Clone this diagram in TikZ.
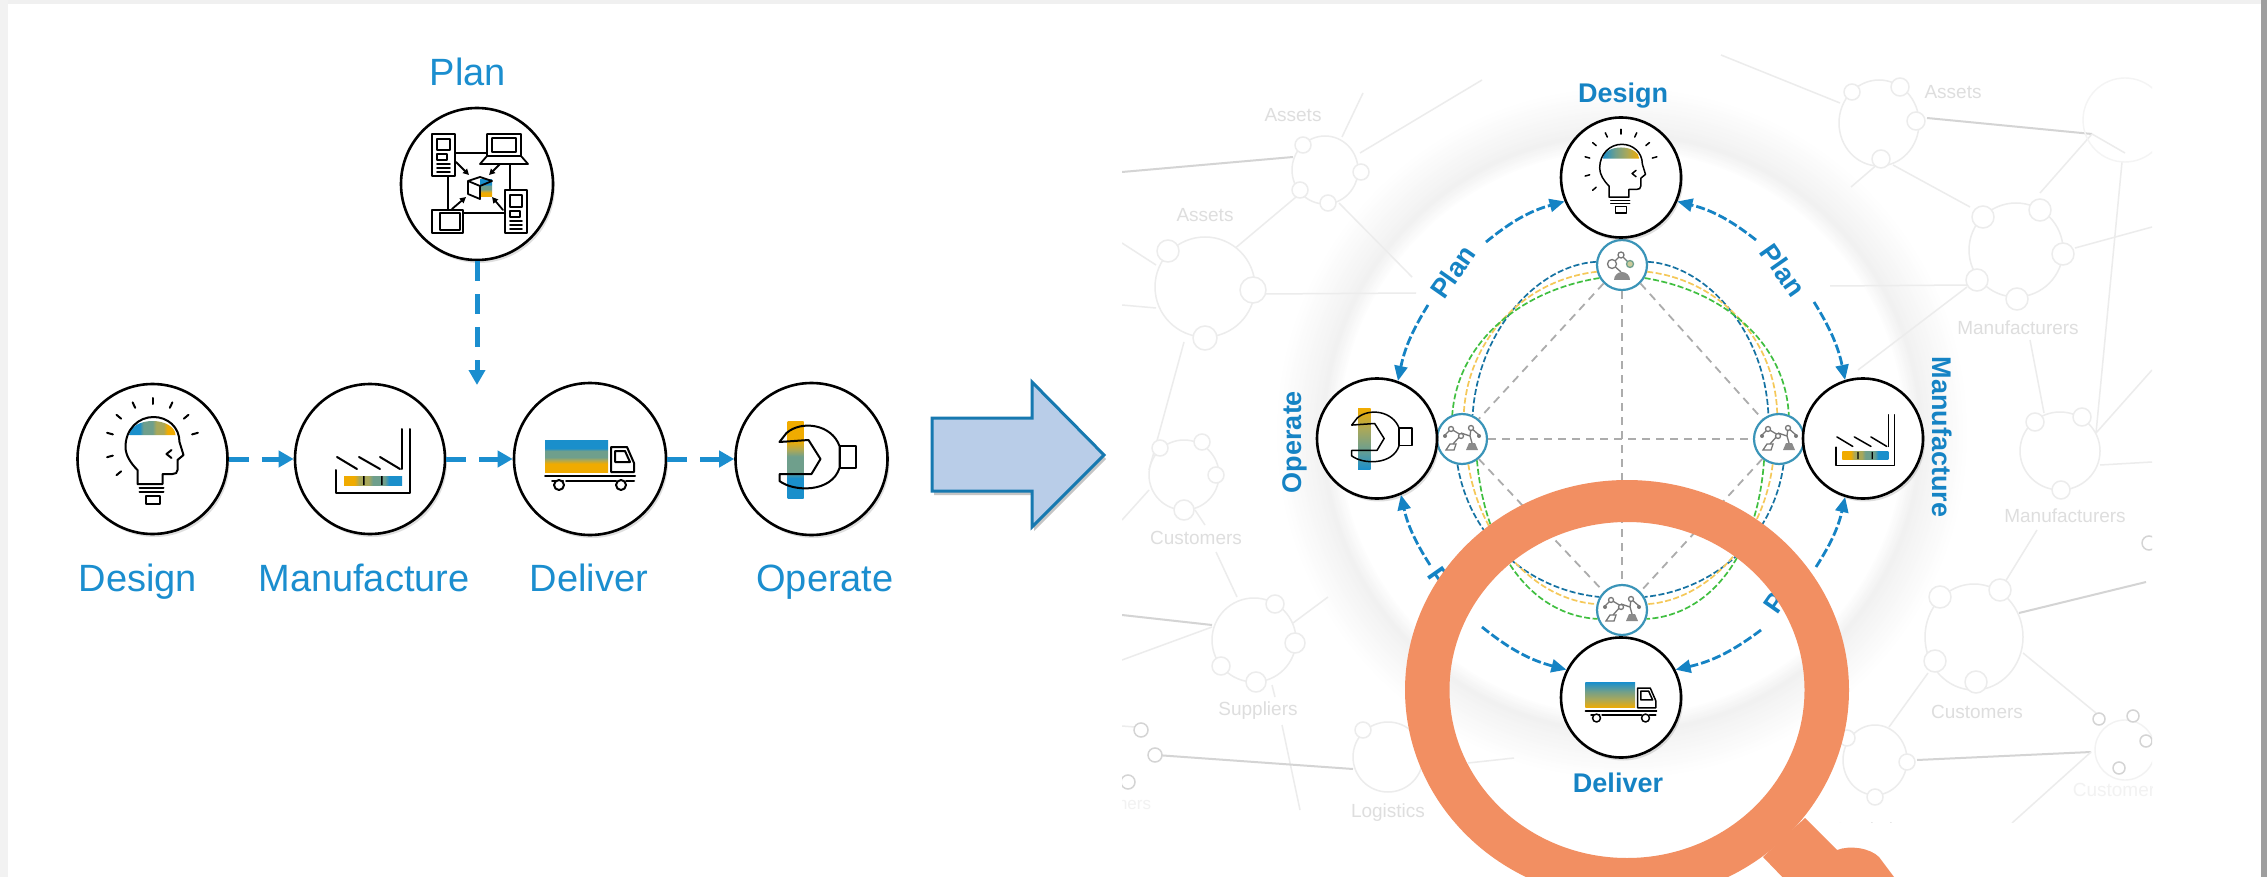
\documentclass[tikz,border=0pt]{standalone}
\usepackage{fontspec}
\setmainfont{Liberation Sans}
\usetikzlibrary{arrows.meta,shadows,calc}
\definecolor{sapblue}{HTML}{1B8ECF}
\definecolor{dkblue}{HTML}{1583C4}
\definecolor{sapfill}{HTML}{B9CDE8}
\definecolor{gA}{HTML}{1A8FCB}
\definecolor{gB}{HTML}{6F9F8C}
\definecolor{gC}{HTML}{A9A85A}
\definecolor{gD}{HTML}{F0AB00}
\definecolor{netc}{HTML}{ECECEC}
\definecolor{netd}{HTML}{D4D4D4}
\definecolor{nett}{HTML}{DEDEDE}
\definecolor{ringc}{HTML}{F28F62}
\definecolor{smallc}{HTML}{3A94B8}
\definecolor{robotg}{HTML}{777777}
\pgfdeclareverticalshading{bandv}{100bp}{color(0bp)=(gD);color(25bp)=(gD);color(38bp)=(gD);color(44bp)=(gC);color(48bp)=(gB);color(58bp)=(gB);color(62bp)=(gA);color(75bp)=(gA);color(100bp)=(gA)}
\pgfdeclareverticalshading{smoothv}{100bp}{color(0bp)=(gD);color(25bp)=(gD);color(42bp)=(gC);color(58bp)=(gB);color(75bp)=(gA);color(100bp)=(gA)}
\pgfdeclarehorizontalshading{bandh}{100bp}{color(0bp)=(gA);color(25bp)=(gA);color(36bp)=(gA);color(40bp)=(gB);color(50bp)=(gB);color(54bp)=(gC);color(62bp)=(gC);color(66bp)=(gD);color(75bp)=(gD);color(100bp)=(gD)}
\pgfdeclarehorizontalshading{smoothh}{100bp}{color(0bp)=(gA);color(25bp)=(gA);color(42bp)=(gB);color(58bp)=(gC);color(75bp)=(gD);color(100bp)=(gD)}
\tikzset{
  iconline/.style={draw=black,line cap=round,line join=round},
  bigc/.style={circle,draw=black,fill=white,line width=2.6pt,inner sep=0pt,minimum size=#1,drop shadow={shadow xshift=2pt,shadow yshift=-3pt,opacity=.25}},
  smallcirc/.style={circle,draw=smallc,fill=white,line width=2.2pt,inner sep=0pt,minimum size=50pt},
  bigtxt/.style={text=sapblue,font=\fontsize{38}{40}\selectfont,inner sep=0pt,anchor=base},
  rtxt/.style={text=dkblue,font=\fontsize{27}{29}\selectfont\bfseries,inner sep=0pt},
  flow/.style={draw=sapblue,line width=5pt,dash pattern=on 20pt off 13pt,-{Triangle[length=15pt,width=16pt]}},
  rflow/.style={draw=dkblue,line width=2.8pt,dash pattern=on 9pt off 3pt,-{Triangle[length=15pt,width=13pt]}},
  netl/.style={draw=netc,line width=1.5pt},
  netk/.style={draw=netd,line width=2pt},
  blob/.style={draw=netc,line width=1.5pt,fill=white},
  nettxt/.style={text=nett,font=\fontsize{19}{21}\selectfont,inner sep=0pt},
  greyd/.style={draw=gray!65,line width=1.8pt,dash pattern=on 8pt off 6pt},
  cblue/.style={draw=gA!80!black,line width=1.7pt,dash pattern=on 6pt off 2.5pt},
  corange/.style={draw=gD!65!white,line width=1.7pt,dash pattern=on 6pt off 2.5pt},
  cgreen/.style={draw=green!50!gray,line width=1.7pt,dash pattern=on 6pt off 2.5pt},
  robot/.style={draw=robotg,line width=1.3pt},
}
% icons: #1 position, #2 scale, #3 line width, #4 shading
\newcommand{\IcDesign}[4]{\begin{scope}[shift={(#1)},scale=#2,line width=#3,iconline]
  \shade[draw=none,shading=#4] (-23,-24) arc[start angle=180,end angle=360,x radius=23,y radius=14] -- cycle;
  \draw (-15,25) -- (-15,11) .. controls (-22,4) and (-27,-4) .. (-27,-12) .. controls (-27,-30) and (-14,-42) .. (1,-42) .. controls (15,-42) and (27,-32) .. (27,-17) -- (31,-4) -- (25,1) -- (25,11) .. controls (25,14) and (23,15) .. (20,15) -- (10,15) -- (10,25) -- cycle;
  \draw (-13,29) -- (11,29) (-13,33) -- (11,33);
  \draw (-7,37) rectangle (7,45);
  \draw (19,-9) -- (14,-5) -- (19,-1);
  \foreach \a in {-90,-65,-115,-40,-140,-15,-165,165,140}{\draw (\a:41) ++(0,-14) -- ++(\a:6);}
\end{scope}}
\newcommand{\IcFactory}[4]{\begin{scope}[shift={(#1)},scale=#2,line width=#3,iconline]
  \shade[draw=none,shading=#4,shading angle=180] (-26,17) rectangle (32,26);
  \fill[black] (-7,17) rectangle (-5.5,26) (11,17) rectangle (12.5,26);
  \draw (-34,11) -- (-34,34) -- (40,34) -- (40,-30) (32,-30) -- (32,10);
  \draw (-33,-2) -- (-13,10) (-11,-2) -- (10,10) (10,-2) -- (30,10);
\end{scope}}
\newcommand{\IcTruck}[4]{\begin{scope}[shift={(#1)},scale=#2,line width=#3,iconline]
  \shade[draw=none,shading=#4] (-45,-19) rectangle (18,13);
  \draw (21,13) -- (21,-12) -- (37,-12) -- (44,4) -- (44,13) -- cycle;
  \draw (25,-8) -- (25,3) -- (40,3) -- (35,-8) -- cycle;
  \draw (-45,17) -- (45,17) (-38,22) -- (-27,22) (-24,22) -- (26,22) (36,22) -- (44,22);
  \draw[fill=white] (-31,26) circle[radius=5] (31,26) circle[radius=5];
\end{scope}}
\newcommand{\IcWrench}[4]{\begin{scope}[shift={(#1)},scale=#2,line width=#3,iconline]
  \shade[draw=none,shading=#4,shading angle=180] (-24,-38) rectangle (-8,39);
  \draw (-32,-17) -- (-3,-19) -- (9,0) -- (0,15) -- (-32,15) -- (-32,22) .. controls (-18,33) and (20,34) .. (28,9) -- (28,-13) .. controls (20,-35) and (-10,-39) .. (-25,-26) -- cycle;
  \draw (28,-13) rectangle (44,9);
\end{scope}}
\newcommand{\IcPlan}[4]{\begin{scope}[shift={(#1)},scale=#2,line width=#3,iconline]
  \draw (-22,-31) -- (10,-31) (-29,-8) -- (-29,26) (-14,29) -- (28,29) (33,-20) -- (33,6);
  \draw (-45,-50) rectangle (-22,-8) (-40,-45) rectangle (-27,-34) (-40,-30) rectangle (-30,-24) (-40,-20) -- (-27,-20) (-40,-16) -- (-27,-16) (-40,-12) -- (-27,-12);
  \draw (10,-50) rectangle (44,-28) (15,-46) rectangle (39,-32) (10,-28) -- (44,-28) -- (51,-20) -- (3,-20) -- cycle;
  \draw (28,6) rectangle (50,49) (33,11) rectangle (45,23) (33,27) rectangle (43,33) (33,37) -- (45,37) (33,41) -- (45,41) (33,45) -- (45,45);
  \draw (-45,26) rectangle (-14,49) (-37,29) rectangle (-17,46);
  \shade[draw=none,shading=#4] (3,-4) rectangle (15,13);
  \draw (-9,-3) -- (3,2) -- (3,15) -- (-9,10) -- cycle (-9,-3) -- (3,-7) -- (15,-3) -- (3,2);
  \foreach \p/\q in {{-21,-22}/{-8,-9},{23,-20}/{12,-9},{-25,25}/{-11,13},{26,26}/{15,13}}
    \draw[-{Triangle[length=6pt,width=6pt]}] (\p) -- (\q);
\end{scope}}
% robots
\newcommand{\RobotOne}[1]{\begin{scope}[shift={(#1)}]
  \fill[robotg!85] (-8,15) arc[start angle=180,end angle=360,radius=8] -- cycle;
  \draw[robot] (-1,7) -- (-10,-1) -- (-1,-10) -- (8,-1);
  \draw[robot,fill=white] (-10,-1) circle[radius=4.5] (-1,-10) circle[radius=3];
  \draw[draw=gB,line width=1.3pt,fill=gC!60] (8,-1) circle[radius=3.5];
\end{scope}}
\newcommand{\RobotTwo}[1]{\begin{scope}[shift={(#1)}]
  \draw[robot] (-16,11) -- (-8,11) -- (-6,5) -- (-12,5) -- cycle;
  \fill[robotg!85] (4,11) -- (16,11) -- (13,4) -- (7,4) -- cycle;
  \draw[robot] (-9,5) -- (-1,-4) -- (-11,-10) -- (-17,-4);
  \draw[robot] (10,4) -- (8,-3) -- (-1,-6) (8,-3) -- (9,-11) -- (17,-4);
  \draw[robot,fill=white] (-11,-10) circle[radius=2.5] (-1,-3) circle[radius=2.5] (9,-11) circle[radius=2.5];
  \fill[robotg] (-17,-3) circle[radius=2] (17,-3) circle[radius=2];
\end{scope}}
\begin{document}
\begin{tikzpicture}[x=1pt,y=-1pt]
\useasboundingbox (0,0) rectangle (2267,877);
\clip (0,0) rectangle (2267,877);
\fill[white] (0,0) rectangle (2267,877);
% frame
\fill[black!6] (0,0) rectangle (2267,4);
\fill[black!5] (0,0) rectangle (8,877);
\fill[black!38] (2261,0) rectangle (2267,877);
% ---------------- halo
\foreach \r in {282,284,...,346}{
  \pgfmathsetmacro{\pc}{\r<298 ? (\r-282)/16*5.5 : (346-\r)/48*5.5}
  \draw[black!\pc,line width=2.4pt] (1622,433) circle[radius=\r];
}
% ---------------- background network
\begin{scope}
\clip (1122,30) rectangle (2152,822);
\draw[netk] (1122,172) -- (1293,157);
\draw[netl] (1342,137) -- (1363,93) (1360,153) -- (1482,80) (1339,203) -- (1412,277) (1296,197) -- (1233,250);
\draw[netl] (1122,243) -- (1156,265) (1122,305) -- (1156,308) (1265,294) -- (1416,293) (1184,342) -- (1149,470);
\draw[netl] (1149,490) -- (1122,520) (1195,510) -- (1205,525) (1216,552) -- (1237,597);
\draw[netk] (1122,615) -- (1212,625);
\draw[netl] (1212,627) -- (1122,660) (1293,623) -- (1328,597) (1272,685) -- (1275,697) (1282,725) -- (1300,810);
\draw[netk] (1156,755) -- (1353,769);
\draw[netl] (1122,726) -- (1135,727) (1468,763) -- (1514,758);
\draw[netl] (1721,55) -- (1840,103) (1879,163) -- (1851,187) (1893,165) -- (1970,207);
\draw[netk] (1927,118) -- (2092,134);
\draw[netl] (2092,134) -- (2040,193) (2092,134) -- (2125,153) (2122,162) -- (2096,433);
\draw[netl] (2075,248) -- (2152,227) (1969,285) -- (1830,286) (1967,287) -- (1858,370) (2030,340) -- (2044,413);
\draw[netl] (2096,433) -- (2152,370) (2100,465) -- (2152,462) (2037,530) -- (2005,582);
\draw[netk] (2019,613) -- (2146,582);
\draw[netl] (2023,653) -- (2096,713) (1928,673) -- (1889,727);
\draw[netk] (1917,760) -- (2091,752);
\draw[netl] (2091,752) -- (2012,823);
\draw[blob] (1325,170) ellipse[x radius=33,y radius=34];
\draw[blob] (1303,145) circle[radius=8] (1361,172) circle[radius=8] (1300,190) circle[radius=8] (1328,203) circle[radius=8];
\draw[blob] (1205,287) ellipse[x radius=50,y radius=50];
\draw[blob] (1168,251) circle[radius=11] (1253,290) circle[radius=13] (1205,338) circle[radius=12];
\draw[blob] (1184,475) ellipse[x radius=35,y radius=35];
\draw[blob] (1160,448) circle[radius=8] (1202,442) circle[radius=8] (1216,475) circle[radius=8] (1184,510) circle[radius=10];
\draw[blob] (1254,640) ellipse[x radius=42,y radius=42];
\draw[blob] (1275,604) circle[radius=9] (1295,643) circle[radius=10] (1221,666) circle[radius=9] (1256,682) circle[radius=10];
\draw[blob] (1388,757) ellipse[x radius=35,y radius=35];
\draw[blob] (1363,730) circle[radius=8];
\draw[draw=netd,line width=1.5pt,fill=white] (1141,730) circle[radius=7] (1155,755) circle[radius=7] (1128,782) circle[radius=7];
\draw[blob] (1879,123) ellipse[x radius=40,y radius=43];
\draw[blob] (1852,92) circle[radius=8] (1900,87) circle[radius=9] (1916,121) circle[radius=9] (1881,159) circle[radius=9];
\draw[netc!60!white,line width=1.4pt] (2125,120) circle[radius=42];
\draw[blob] (2016,250) ellipse[x radius=47,y radius=47];
\draw[blob] (1983,217) circle[radius=11] (2040,210) circle[radius=11] (2063,254) circle[radius=11] (1977,280) circle[radius=11] (2017,299) circle[radius=11];
\draw[blob] (2060,451) ellipse[x radius=40,y radius=39];
\draw[blob] (2035,422) circle[radius=9] (2082,417) circle[radius=9] (2061,490) circle[radius=9];
\draw[blob] (1974,637) ellipse[x radius=49,y radius=53];
\draw[blob] (1940,597) circle[radius=11] (2000,590) circle[radius=11] (1935,661) circle[radius=11] (1976,682) circle[radius=11];
\draw[blob] (1875,760) ellipse[x radius=32,y radius=35];
\draw[blob] (1847,738) circle[radius=8] (1907,762) circle[radius=8] (1875,797) circle[radius=8];
\draw[netc!70!white,line width=1.4pt] (2125,750) circle[radius=30];
\draw[draw=netd,line width=1.5pt,fill=white] (2099,719) circle[radius=6] (2133,716) circle[radius=6] (2146,741) circle[radius=6] (2119,768) circle[radius=6] (2149,543) circle[radius=7];
\node[nettxt] (tA1) at (1293,115) {Assets};
\node[nettxt] (tA2) at (1205,215) {Assets};
\node[nettxt] (tA3) at (1953,92) {Assets};
\node[nettxt] (tM1) at (2018,328) {Manufacturers};
\node[nettxt] (tM2) at (2065,516) {Manufacturers};
\node[nettxt] (tC1) at (1196,538) {Customers};
\node[nettxt] (tC2) at (1977,712) {Customers};
\node[nettxt] (tS) at (1258,711) {Suppliers};
\node[nettxt] (tL1) at (1388,813) {Logistics};
\node[nettxt] (tL2) at (1875,832) {Logistics};
\node[nettxt,text=nett!40!white] (tC3) at (2114,790) {Customer};
\node[nettxt,text=nett!40!white,font=\fontsize{17}{19}\selectfont] (tC4) at (1110,804) {Customers};
\end{scope}
% ---------------- left flow
\node[bigc=150pt] (dsg) at (152.5,459) {};
\node[bigc=150pt] (mfg) at (370,459) {};
\node[bigc=152pt] (dlv) at (590,459) {};
\node[bigc=152pt] (opr) at (811.5,459) {};
\node[bigc=152pt] (pln) at (477,184) {};
\coordinate (plnend) at (477,385);
\draw[flow] (dsg.east) -- (mfg.west);
\draw[flow] (mfg.east) -- (dlv.west);
\draw[flow] (dlv.east) -- (opr.west);
\draw[flow] (pln.south) -- (plnend);
\IcDesign{dsg.center}{1}{2pt}{bandh}
\IcFactory{mfg.center}{1}{2pt}{bandh}
\IcTruck{dlv.center}{1}{2pt}{bandv}
\IcWrench{opr.center}{1}{2pt}{bandv}
\IcPlan{pln.center}{1}{1.8pt}{bandv}
\node[bigtxt] (tplan) at (468,86) {Plan};
\node[bigtxt] (tdesign) at (138,591) {Design};
\node[bigtxt] (tmanu) at (364,591) {Manufacture};
\node[bigtxt] (tdeliver) at (589,591) {Deliver};
\node[bigtxt] (toperate) at (825,591) {Operate};
% ---------------- block arrow
\fill[black!45,opacity=.5] (934,422) -- (1034,422) -- (1034,387) -- (1106,459) -- (1034,531) -- (1034,495) -- (934,495) -- cycle;
\draw[draw=sapblue!85!black,line width=3pt,fill=sapfill,line join=miter] (932,418) -- (1032,418) -- (1032,382) -- (1104,455) -- (1032,527) -- (1032,491) -- (932,491) -- cycle;
% ---------------- right ring: small nodes
\node[smallcirc] (st) at (1622,265) {};
\node[smallcirc] (sl) at (1462,439) {};
\node[smallcirc] (sr) at (1779,439) {};
\node[smallcirc] (sb) at (1622,610) {};
\draw[greyd] (st.south) -- (sb.north);
\draw[greyd] (sl.east) -- (sr.west);
\draw[greyd] (st.225) -- (sl.50);
\draw[greyd] (st.-45) -- (sr.130);
\draw[greyd] (sl.-50) -- (sb.135);
\draw[greyd] (sr.230) -- (sb.45);
% top right
\draw[cblue] (st.7) .. controls (1705,265) and (1765,330) .. (sr.114);
\draw[corange] (st.-15) .. controls (1720,280) and (1775,340) .. (sr.94);
\draw[cgreen] (st.-30) .. controls (1720,290) and (1785,340) .. (sr.68);
% top left
\draw[cblue] (st.173) .. controls (1538,265) and (1478,330) .. (sl.66);
\draw[corange] (st.195) .. controls (1523,280) and (1468,340) .. (sl.86);
\draw[cgreen] (st.210) .. controls (1523,290) and (1458,340) .. (sl.112);
% bottom left
\draw[cblue] (sl.260) .. controls (1470,540) and (1530,590) .. (sb.150);
\draw[corange] (sl.284) .. controls (1480,540) and (1535,600) .. (sb.167);
\draw[cgreen] (sl.305) .. controls (1485,550) and (1530,615) .. (sb.200);
% bottom right
\draw[cblue] (sr.280) .. controls (1773,540) and (1713,590) .. (sb.30);
\draw[corange] (sr.256) .. controls (1763,540) and (1708,600) .. (sb.13);
\draw[cgreen] (sr.235) .. controls (1758,550) and (1713,615) .. (sb.-20);
\RobotOne{st.center}
\RobotTwo{sl.center}
\RobotTwo{sr.center}
\RobotTwo{sb.center}
% ---------------- right big nodes
\node[bigc=120pt] (rD) at (1621,177.5) {};
\node[bigc=120pt] (rM) at (1863,438.5) {};
\node[bigc=120pt] (rL) at (1621,697.5) {};
\node[bigc=120pt] (rO) at (1377,438.5) {};
\coordinate (a1) at (1756,240);
\coordinate (a2) at (1486,242);
\coordinate (a3) at (1814,302);
\coordinate (a4) at (1428,305);
\coordinate (a5) at (1430,565);
\coordinate (a6) at (1816,567);
\coordinate (a7) at (1482,627);
\coordinate (a8) at (1761,630);
\draw[rflow] (a1) to[bend right=12] (rD.-23);
\draw[rflow] (a2) to[bend left=12] (rD.203);
\draw[rflow] (a3) to[bend left=10] (rM.107);
\draw[rflow] (a4) to[bend right=10] (rO.70);
\draw[rflow] (a5) to[bend left=10] (rO.-67);
\draw[rflow] (a6) to[bend right=10] (rM.-107);
\draw[rflow] (a7) to[bend right=12] (rL.153);
\draw[rflow] (a8) to[bend left=12] (rL.27);
\IcDesign{rD.center}{.79}{1.5pt}{smoothh}
\IcFactory{rM.center}{.79}{1.5pt}{bandh}
\IcTruck{rL.center}{.79}{1.5pt}{smoothv}
\IcWrench{rO.center}{.79}{1.5pt}{smoothv}
\node[rtxt,anchor=base] (rtD) at (1623,103) {Design};
\node[rtxt,anchor=base] (rtL) at (1618,792) {Deliver};
\node[rtxt,rotate=90] (rtO) at (1295,442) {Operate};
\node[rtxt,rotate=-90] (rtM) at (1942,437) {Manufacture};
\node[rtxt,rotate=55] (rtP1) at (1453,272) {Plan};
\node[rtxt,rotate=-55] (rtP2) at (1783,270) {Plan};
\node[rtxt,rotate=-55] (rtP3) at (1451,593) {Plan};
\node[rtxt,rotate=55] (rtP4) at (1786,587) {Plan};
% ---------------- magnifier
\fill[ringc,even odd rule] (1627,690) ellipse[x radius=222,y radius=210] (1627,690) ellipse[x radius=177.5,y radius=168];
\fill[ringc] (1763,857) -- (1805,818) -- (1837,850) .. controls (1850,845) and (1870,848) .. (1879,857) -- (1900,885) -- (1790,885) -- cycle;
\end{tikzpicture}
\end{document}
